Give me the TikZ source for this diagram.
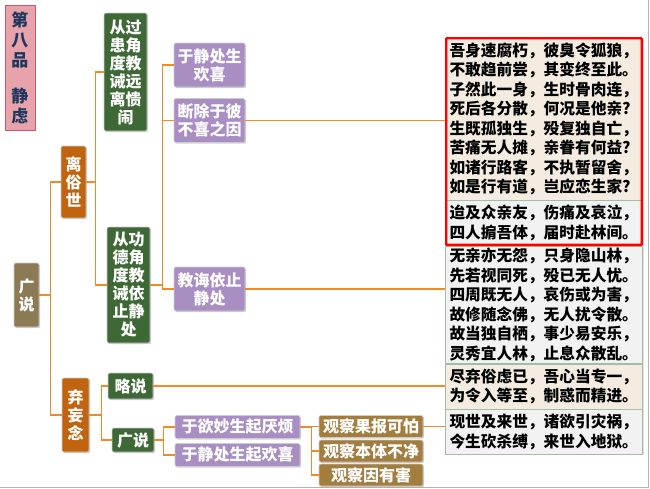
\documentclass[tikz,border=0pt]{standalone}
\usepackage{fontspec}
\setmainfont{Noto Sans CJK SC}
\usepackage{tikz}
\usetikzlibrary{shadows}
\usetikzlibrary{calc}
\definecolor{linkorange}{RGB}{240,140,40}
\definecolor{titlepink}{RGB}{232,162,170}
\definecolor{titleborder}{RGB}{205,85,105}
\definecolor{titleblue}{RGB}{30,55,95}
\definecolor{rootbrown}{RGB}{140,122,85}
\definecolor{rustorange}{RGB}{192,100,15}
\definecolor{leafgreen}{RGB}{62,105,55}
\definecolor{lilac}{RGB}{168,142,194}
\definecolor{ochre}{RGB}{162,125,62}
\definecolor{beige}{RGB}{244,236,225}
\definecolor{palegray}{RGB}{242,242,242}
\definecolor{verseborder}{RGB}{160,190,160}
\tikzstyle{box}=[rectangle,rounded corners=2pt,draw=white!80!black,line width=0.6pt,inner sep=0pt,align=center,text=white,font=\bfseries\fontsize{16}{18}\selectfont,drop shadow={shadow xshift=1.2pt,shadow yshift=-1.2pt,opacity=0.35}]
\tikzstyle{rootbox}=[box,fill=rootbrown]
\tikzstyle{levelone}=[box,fill=rustorange]
\tikzstyle{greenbox}=[box,fill=leafgreen]
\tikzstyle{purplebox}=[box,fill=lilac]
\tikzstyle{brownbox}=[box,fill=ochre]
\tikzstyle{versebox}=[rectangle,draw=verseborder,line width=0.6pt,inner xsep=4pt,inner ysep=0pt,minimum width=197pt,text width=189pt,align=left,font=\bfseries\fontsize{15.7}{19.5}\selectfont,drop shadow={shadow xshift=1pt,shadow yshift=-1pt,opacity=0.25}]
\tikzstyle{branch} = [draw,line width=1.5pt,linkorange]

\begin{document}
\begin{tikzpicture}[x=1pt,y=-1pt]

\useasboundingbox (0,0) rectangle (650,488);
\fill[white] (0,0) rectangle (650,488);
\draw[gray!60,line width=1pt] (648,0) -- (648,487) -- (0,487);

% title
\node[rectangle,fill=titlepink,draw=titleborder,line width=1pt,minimum width=30pt,minimum height=125pt,align=center,text=titleblue,font=\bfseries\fontsize{17}{20}\selectfont] (title) at (20,67.5) {第\\八\\品\\[16pt]静\\虑};

    \node[rootbox,minimum width=25pt,minimum height=64pt] (root) at (26.5,295) {广\\说};
    \node[levelone,minimum width=25pt,minimum height=72pt] (lisu) at (73.5,182) {离\\俗\\世};
    \node[levelone,minimum width=27pt,minimum height=74pt] (qiwang) at (75.5,415) {弃\\妄\\念};

    \node[greenbox,minimum width=43pt,minimum height=118pt] (guohuan) at (125.5,72) {从过\\患角\\度教\\诫远\\离愦\\闹};
    \node[greenbox,minimum width=43pt,minimum height=116pt] (gongde) at (128.5,285) {从功\\德角\\度教\\诫依\\止静\\处};
    \node[greenbox,minimum width=45pt,minimum height=26pt] (lueshuo) at (130.5,386) {略说};
    \node[greenbox,minimum width=42pt,minimum height=24pt] (guangshuo) at (133,440) {广说};

     \foreach \pos/ \name/ \txt in {{(209.5,65)/huanxi/{于静处生\\欢喜}}, {(209.5,120.5)/duanchu/{断除于彼\\不喜之因}}, {(209.5,289)/jiaohui/{教诲依止\\静处}}}
        \node[purplebox,minimum width=71pt,minimum height=44pt] (\name) at \pos {\txt};

     \foreach \pos/ \name/ \txt in {{(237.5,427)/yanfan/于欲妙生起厌烦}, {(237.5,455)/jingchu/于静处生起欢喜}}
        \node[purplebox,minimum width=125pt,minimum height=23pt] (\name) at \pos {\txt};

     \foreach \pos/ \name/ \txt in {{(371,426.5)/guobao/观察果报可怕}, {(371,451)/benti/观察本体不净}, {(371,475)/yinhai/观察因有害}}
        \node[brownbox,minimum width=104pt,minimum height=22pt] (\name) at \pos {\txt};

    % verses on the right
    \node[versebox,fill=beige,minimum height=162pt] (verseA) at (544,119) {吾身速腐朽，彼臭令狐狼，\\不敢趋前尝，其变终至此。\\子然此一身，生时骨肉连，\\死后各分散，何况是他亲?\\生既孤独生，殁复独自亡，\\苦痛无人摊，亲眷有何益?\\如诸行路客，不执暂留舍，\\如是行有道，岂应恋生家?};
    \node[versebox,fill=palegray,minimum height=45pt,anchor=north] (verseB) at (verseA.south) {迨及众亲友，伤痛及哀泣，\\四人掮吾体，届时赴林间。};
    \node[versebox,fill=palegray,minimum height=117pt,anchor=north] (verseC) at (verseB.south) {无亲亦无怨，只身隐山林，\\先若视同死，殁已无人忧。\\四周既无人，哀伤或为害，\\故修随念佛，无人扰令散。\\故当独自栖，事少易安乐，\\灵秀宜人林，止息众散乱。};
    \node[versebox,fill=beige,minimum height=45pt,anchor=north] (verseD) at (verseC.south) {尽弃俗虑已，吾心当专一，\\为令入等至，制惑而精进。};
    \node[versebox,fill=palegray,minimum height=45pt,anchor=north] (verseE) at (verseD.south) {现世及来世，诸欲引灾祸，\\今生砍杀缚，来世入地狱。};

    \draw[red,line width=2.4pt,rounded corners=1pt] ($(verseA.north west)+(1,0.5)$) rectangle ($(verseB.south east)+(-1,-1)$);

    % Connect boxes with elbow lines
    \foreach \source/ \dest/ \dx in {root/lisu/11, root/qiwang/11, lisu/guohuan/9, lisu/gongde/9, gongde/huanxi/12, gongde/duanchu/12, gongde/jiaohui/12, qiwang/lueshuo/12, qiwang/guangshuo/12, guangshuo/yanfan/9, guangshuo/jingchu/9, yanfan/guobao/11, yanfan/benti/11, yanfan/yinhai/11}
        \path[branch] (\source.east) -- ++(\dx,0) |- (\dest.west);

    \foreach \source/ \dest in {duanchu/verseA, jiaohui/verseC, lueshuo/verseD, guobao/verseE}
        \path[branch] (\source.east) -- (\source.east -| \dest.west);

\end{tikzpicture}
\end{document}
